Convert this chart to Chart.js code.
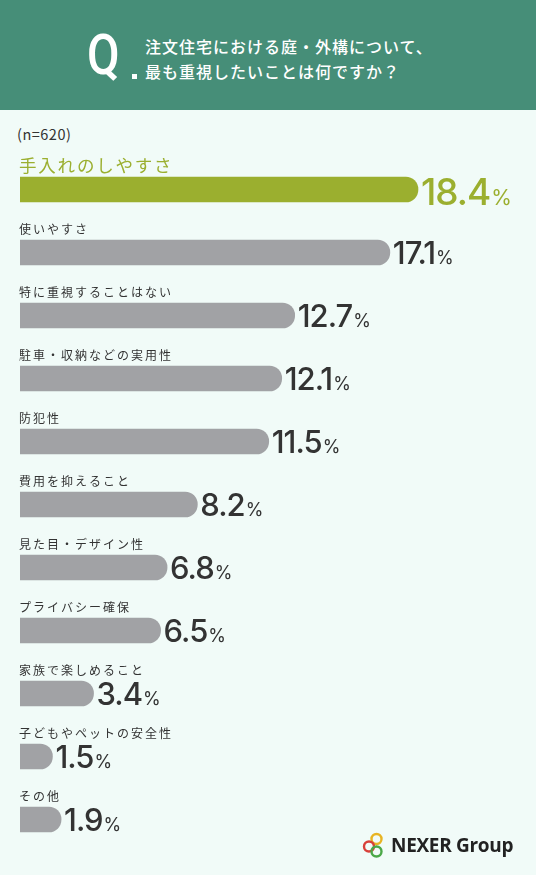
<!DOCTYPE html>
<html lang="ja">
<head>
<meta charset="utf-8">
<script src="https://cdn.jsdelivr.net/npm/chart.js@4.4.1/dist/chart.umd.min.js"></script>
<style>
  html, body { margin: 0; padding: 0; }
  body { width: 536px; height: 875px; background: #F1FBF8; position: relative; overflow: hidden;
         font-family: "Noto Sans CJK JP", "Noto Sans", sans-serif; }
  #header { position: absolute; left: 0; top: 0; width: 536px; height: 110px; background: #468E78; }
  #q { position: absolute; left: 87px; top: 25px; font-family: "Roboto", sans-serif; font-weight: 500;
       font-size: 55px; line-height: 60px; color: #fff; transform: scaleX(0.86); transform-origin: left top; }
  #qdot { position: absolute; left: 132px; top: 74px; width: 5px; height: 5px; background: #fff; }
  #qtext { position: absolute; left: 145px; top: 34px; color: #fff; font-size: 16px; line-height: 25px;
           letter-spacing: 1px; font-weight: 500; }
  #n { position: absolute; left: 17px; top: 123px; font-size: 14.5px; color: #333; letter-spacing: 0.5px; }
  #logo { position: absolute; left: 362px; top: 831px; height: 28px; display: flex; align-items: center; }
  #logo span { font-family: "Open Sans", sans-serif; font-weight: 700; font-size: 19px; color: #222;
               margin-left: 3px; letter-spacing: -0.3px; }
  #c { position: absolute; left: 0; top: 0; }
</style>
</head>
<body>
<div id="header">
  <div id="q">Q</div>
  <div id="qdot"></div>
  <div id="qtext">注文住宅における庭・外構について、<br>最も重視したいことは何ですか？</div>
</div>
<div id="n">(n=620)</div>
<canvas id="c" width="536" height="875"></canvas>
<div id="logo">
  <svg width="26" height="26" viewBox="0 0 26 26">
    <circle cx="14.5" cy="7" r="5" fill="none" stroke="#E8B423" stroke-width="2.4"/>
    <circle cx="7" cy="14.5" r="5" fill="none" stroke="#D8403A" stroke-width="2.4"/>
    <circle cx="14.5" cy="19.5" r="5" fill="none" stroke="#4BA848" stroke-width="2.4"/>
  </svg>
  <span>NEXER Group</span>
</div>
<script>
const categories = [
  "手入れのしやすさ",
  "使いやすさ",
  "特に重視することはない",
  "駐車・収納などの実用性",
  "防犯性",
  "費用を抑えること",
  "見た目・デザイン性",
  "プライバシー確保",
  "家族で楽しめること",
  "子どもやペットの安全性",
  "その他"
];
const values = [18.4, 17.1, 12.7, 12.1, 11.5, 8.2, 6.8, 6.5, 3.4, 1.5, 1.9];
const highlightIndex = 0;

const GREEN = "#9BAF2F";
const GRAY = "#A1A2A5";
const DARK = "#333333";

const labelPlugin = {
  id: "labels",
  afterDatasetsDraw(chart) {
    const ctx = chart.ctx;
    const meta = chart.getDatasetMeta(0);
    const left = chart.chartArea.left;
    meta.data.forEach((bar, i) => {
      const hi = i === highlightIndex;
      const top = bar.y - bar.height / 2;
      ctx.save();
      ctx.fillStyle = hi ? GREEN : DARK;
      ctx.font = (hi ? "400 17.5px" : "400 12px") + ' "Noto Sans CJK JP", sans-serif';
      ctx.letterSpacing = hi ? "1.8px" : "2px";
      ctx.textBaseline = "middle";
      ctx.textAlign = "left";
      ctx.fillText(categories[i], left - 1, top - (hi ? 12 : 11));
      const num = values[i].toFixed(1);
      const big = hi ? 37 : 31;
      ctx.font = "500 " + big + 'px "Inter", sans-serif';
      ctx.letterSpacing = "-1px";
      ctx.textBaseline = "alphabetic";
      const base = bar.y + (hi ? 15 : 11.5);
      const x = bar.x + 3;
      ctx.fillText(num, x, base);
      const w = ctx.measureText(num).width;
      ctx.font = "400 " + (hi ? 21 : 18) + 'px "Inter", sans-serif';
      ctx.letterSpacing = "0px";
      ctx.fillText("%", x + w + 1, base);
      ctx.restore();
    });
  }
};

new Chart(document.getElementById("c"), {
  type: "bar",
  data: {
    labels: categories,
    datasets: [{
      data: values,
      backgroundColor: values.map((v, i) => i === highlightIndex ? GREEN : GRAY),
      borderWidth: 0,
      borderRadius: 12.5,
      barThickness: 25
    }]
  },
  options: {
    indexAxis: "y",
    responsive: false,
    animation: false,
    devicePixelRatio: 1,
    layout: { padding: { left: 20, right: 83.4, top: 158, bottom: 24 } },
    scales: {
      x: { display: false, min: 0, max: 20 },
      y: { display: false }
    },
    plugins: { legend: { display: false }, tooltip: { enabled: false } }
  },
  plugins: [labelPlugin]
});
</script>
</body>
</html>
